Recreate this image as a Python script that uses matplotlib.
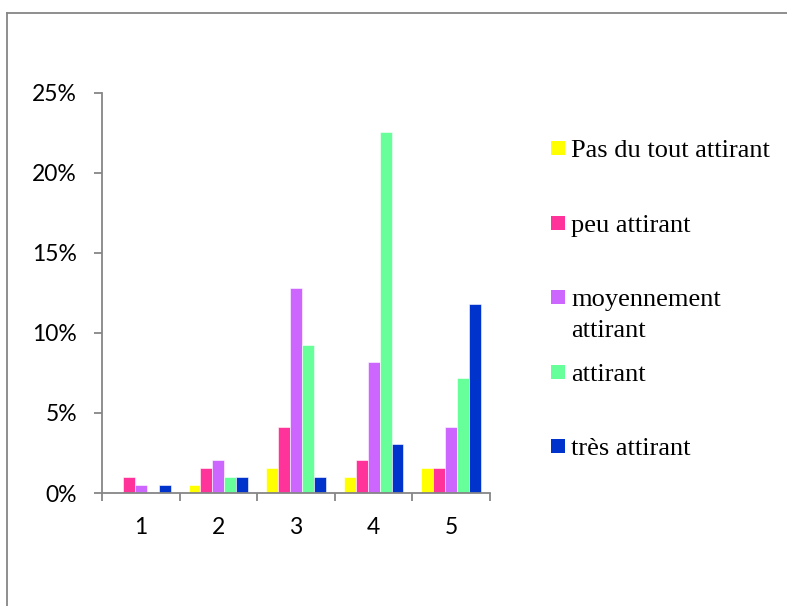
import matplotlib
matplotlib.use("Agg")
import matplotlib.pyplot as plt
from matplotlib.patches import Rectangle
from matplotlib.lines import Line2D
from matplotlib.ticker import FuncFormatter, FixedLocator
import numpy as np

# Share of respondents (%) per score, for each attractiveness rating
categories = ["1", "2", "3", "4", "5"]
series_names = ["Pas du tout attirant", "peu attirant", "moyennement attirant",
                "attirant", "très attirant"]
pas_du_tout = [0.00, 0.51, 1.54, 1.03, 1.54]
peu = [1.03, 1.54, 4.10, 2.05, 1.54]
moyennement = [0.51, 2.05, 12.82, 8.21, 4.10]
attirant = [0.00, 1.03, 9.23, 22.56, 7.18]
tres = [0.51, 1.03, 1.03, 3.08, 11.79]
y_ticks = [0, 5, 10, 15, 20, 25]

series = [pas_du_tout, peu, moyennement, attirant, tres]
colors = ["#FFFF00", "#FF3399", "#CC66FF", "#66FF99", "#0033CC"]

W, H = 787, 606
fig = plt.figure(figsize=(W / 100, H / 100), dpi=100)


def fx(px):
    return px / W


def fy(py):
    return 1 - py / H


ax = fig.add_axes([fx(102), fy(493), fx(490) - fx(102), fy(92.7) - fy(493)])

n = len(series)
bw = 1 / 6.5
x = np.arange(len(categories))
for i, (vals, col) in enumerate(zip(series, colors)):
    ax.bar(x + (i - (n - 1) / 2) * bw, vals, width=bw, color=col,
           edgecolor="white", linewidth=0.4, zorder=2)

ax.set_xlim(-0.5, len(categories) - 0.5)
ax.set_ylim(0, 25)

gray = "#868686"
for s in ["top", "right"]:
    ax.spines[s].set_visible(False)
for s in ["left", "bottom"]:
    ax.spines[s].set_color(gray)
    ax.spines[s].set_linewidth(1.3)

tick_font = dict(family=["Lato", "DejaVu Sans"], size=16.5)
ax.yaxis.set_major_locator(FixedLocator(y_ticks))
ax.yaxis.set_major_formatter(FuncFormatter(lambda v, p: f"{int(v)}%"))
ax.tick_params(axis="y", direction="out", length=6, width=1.3, color=gray, pad=12)
for lbl in ax.get_yticklabels():
    lbl.set_fontfamily(tick_font["family"])
    lbl.set_fontsize(tick_font["size"])

ax.set_xticks(x)
ax.set_xticklabels(categories, **tick_font)
ax.set_xticks(np.arange(len(categories) + 1) - 0.5, minor=True)
ax.tick_params(axis="x", which="major", length=0, pad=17)
ax.tick_params(axis="x", which="minor", direction="out", length=6, width=1.3, color=gray)

# Outer chart frame
fig.add_artist(Line2D([fx(6.5), fx(W + 5)], [fy(12.7), fy(12.7)],
                      color=gray, lw=1.3, transform=fig.transFigure))
fig.add_artist(Line2D([fx(6.5), fx(6.5)], [fy(12.7), fy(H + 5)],
                      color=gray, lw=1.3, transform=fig.transFigure))

# Legend: colour squares with wrapped labels
legend_font = dict(family=["Liberation Serif", "DejaVu Serif"], size=19)
marker_y = [148, 223, 297, 372, 446]
label_lines = [["Pas du tout attirant"], ["peu attirant"],
               ["moyennement", "attirant"], ["attirant"], ["très attirant"]]
sq = 14
for my, lines, col in zip(marker_y, label_lines, colors):
    fig.add_artist(Rectangle((fx(551), fy(my + sq / 2)), fx(sq), fy(0) - fy(sq),
                             facecolor=col, edgecolor="none",
                             transform=fig.transFigure))
    for k, line in enumerate(lines):
        fig.text(fx(571), fy(my + 9 + 31 * k), line, ha="left", va="baseline",
                 color="black", **legend_font)

fig.savefig("out.png", dpi=100, facecolor="white")
